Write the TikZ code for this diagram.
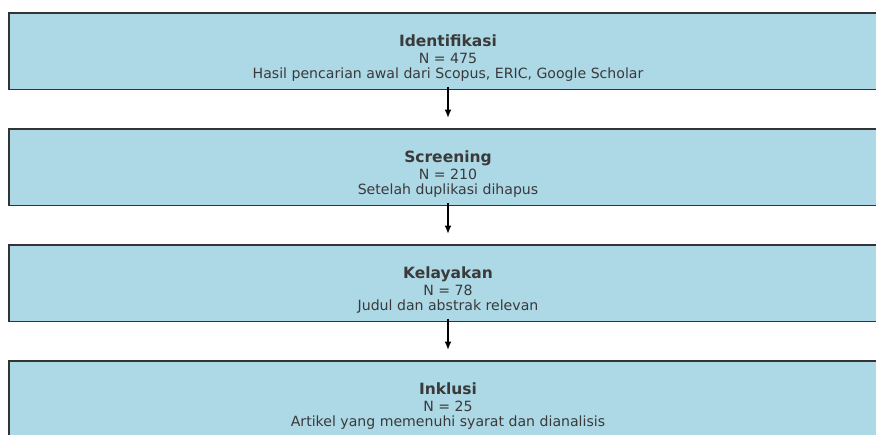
\documentclass[tikz,border=0pt]{standalone}
\usepackage{fontspec}
\setmainfont{DejaVu Sans}
\usetikzlibrary{positioning,arrows.meta}

\definecolor{boxblue}{HTML}{ADD8E6}
\definecolor{edgegray}{HTML}{333333}
\definecolor{txtgray}{HTML}{3A3A3A}
\newcommand{\stagetitle}[1]{{\fontsize{15.5}{17}\selectfont\bfseries #1}}

\begin{document}
\begin{tikzpicture}[x=1pt, y=1pt, node distance=39.3pt,
  stage/.style={draw=edgegray, fill=boxblue, line width=1.5pt, outer sep=0pt,
    minimum width=878pt, minimum height=76.7pt},
  info/.style={align=center, text=txtgray, inner sep=0pt,
    font=\fontsize{14.1}{15}\selectfont},
  arr/.style={-{Latex[length=8.5pt,width=7pt]}, line width=1.7pt,
    shorten <=-3pt, shorten >=11pt}]
  \useasboundingbox (0,0) rectangle (876,-434);
  \node[stage] (iden) at (448,-51.35) {};
  \node[stage] (scr) [below=of iden] {};
  \node[stage] (layak) [below=of scr] {};
  \node[stage] (inkl) [below=of layak] {};
  \node[info] (iden-t) at ([yshift=-6.8pt]iden.center)
    {\stagetitle{Identifikasi}\\[2pt]N = 475\\Hasil pencarian awal dari Scopus, ERIC, Google Scholar};
  \node[info] (scr-t) at ([yshift=-6.8pt]scr.center)
    {\stagetitle{Screening}\\[2pt]N = 210\\Setelah duplikasi dihapus};
  \node[info] (layak-t) at ([yshift=-6.8pt]layak.center)
    {\stagetitle{Kelayakan}\\[2pt]N = 78\\Judul dan abstrak relevan};
  \node[info] (inkl-t) at ([yshift=-6.8pt]inkl.center)
    {\stagetitle{Inklusi}\\[2pt]N = 25\\Artikel yang memenuhi syarat dan dianalisis};
  \path[arr]
    (iden) edge (scr)
    (scr) edge (layak)
    (layak) edge (inkl);
\end{tikzpicture}
\end{document}
